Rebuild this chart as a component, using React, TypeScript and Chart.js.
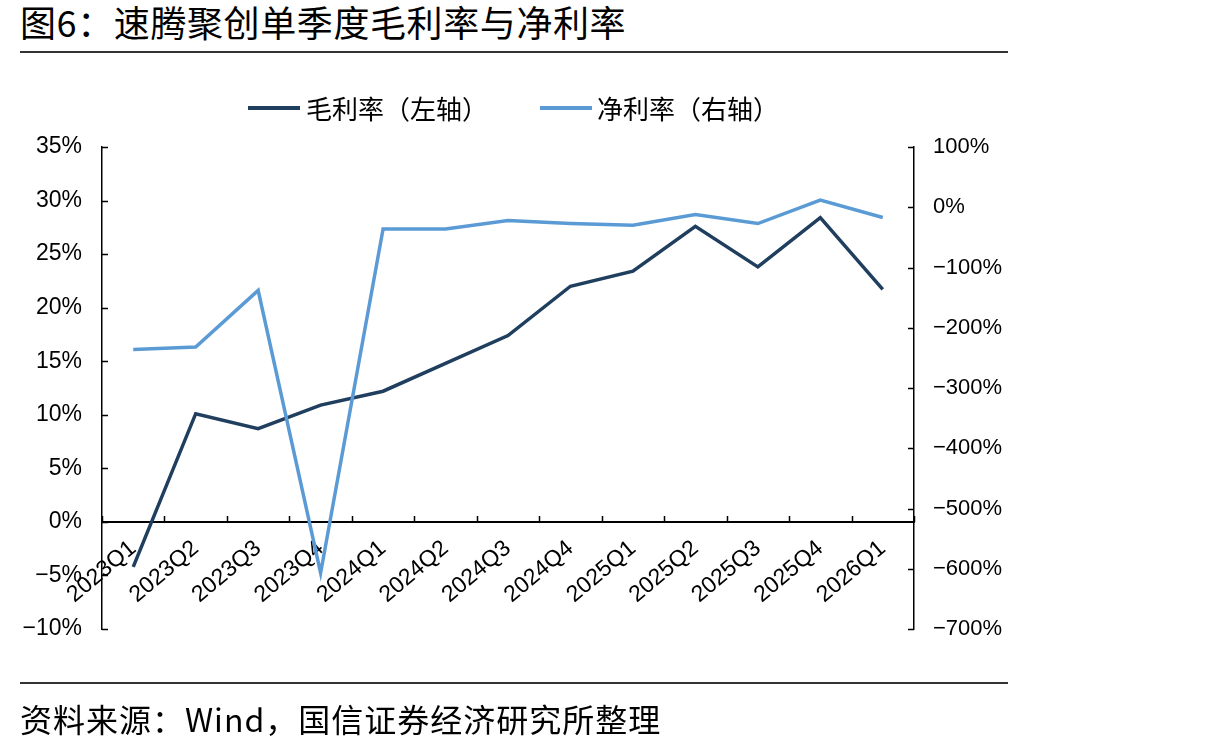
import React, { useEffect, useRef } from 'react';
import { Chart, registerables } from 'chart.js';

Chart.register(...registerables);

const categories = ['2023Q1', '2023Q2', '2023Q3', '2023Q4', '2024Q1', '2024Q2', '2024Q3', '2024Q4', '2025Q1', '2025Q2', '2025Q3', '2025Q4', '2026Q1'];
const grossMargin = [-4.2, 10.1, 8.7, 10.9, 12.2, 14.8, 17.4, 22.0, 23.4, 27.6, 23.8, 28.4, 21.7];
const netMargin = [-236, -232, -138, -607, -36, -36, -22, -27, -30, -12, -27, 12, -17];
const leftAxisRange = [-10, 35, 5];
const rightAxisRange = [-700, 100, 100];

const titleText = '图6：速腾聚创单季度毛利率与净利率';
const legendGross = '毛利率（左轴）';
const legendNet = '净利率（右轴）';
const sourceText = '资料来源：Wind，国信证券经济研究所整理';

const DARK = '#203F5F';
const LIGHT = '#5B9BD5';
const CJK = '"Noto Sans CJK SC", "Noto Sans", sans-serif';
const TICK_FONT = '"Liberation Sans", Arial, sans-serif';

const fmt = (v: number) => (v < 0 ? '\u2212' + Math.abs(v) + '%' : v + '%');

const innerTicks = {
  id: 'innerTicks',
  afterDraw(chart: any) {
    const ctx = chart.ctx;
    const x = chart.scales.x;
    const y = chart.scales.y;
    const y1 = chart.scales.y1;
    ctx.save();
    ctx.strokeStyle = '#000';
    ctx.lineWidth = 1.5;
    ctx.beginPath();
    y.ticks.forEach((t: any) => {
      const p = Math.round(y.getPixelForValue(t.value)) + 0.5;
      ctx.moveTo(y.right, p);
      ctx.lineTo(y.right + 6, p);
    });
    y1.ticks.forEach((t: any) => {
      const p = Math.round(y1.getPixelForValue(t.value)) + 0.5;
      ctx.moveTo(y1.left, p);
      ctx.lineTo(y1.left - 6, p);
    });
    const y0 = y.getPixelForValue(0);
    for (let i = 0; i <= categories.length; i++) {
      const px = Math.round(x.getPixelForValue(i - 0.5)) + 0.5;
      ctx.moveTo(px, y0);
      ctx.lineTo(px, y0 - 6);
    }
    ctx.stroke();
    ctx.restore();
  },
};

export default function App() {
  const ref = useRef<HTMLCanvasElement>(null);

  useEffect(() => {
    if (!ref.current) return;
    const chart = new Chart(ref.current, {
      type: 'line',
      data: {
        labels: categories,
        datasets: [
          {
            label: legendGross,
            data: grossMargin,
            borderColor: DARK,
            backgroundColor: DARK,
            borderWidth: 3.5,
            pointRadius: 0,
            tension: 0,
            yAxisID: 'y',
            order: 1,
          },
          {
            label: legendNet,
            data: netMargin,
            borderColor: LIGHT,
            backgroundColor: LIGHT,
            borderWidth: 3.5,
            pointRadius: 0,
            tension: 0,
            yAxisID: 'y1',
            order: 0,
          },
        ],
      },
      options: {
        responsive: false,
        animation: false,
        layout: { padding: { left: 0, right: 0, top: 147, bottom: 122 } },
        plugins: { legend: { display: false }, tooltip: { enabled: false } },
        scales: {
          x: {
            type: 'category',
            offset: true,
            position: { y: 0 } as any,
            afterFit: (s: any) => { s.height = 0; },
            grid: { display: true, drawOnChartArea: false, drawTicks: false },
            border: { display: true, color: '#000', width: 2 },
            ticks: {
              minRotation: 40,
              maxRotation: 40,
              autoSkip: false,
              padding: 13,
              color: '#000',
              font: { family: TICK_FONT, size: 23 },
            },
          },
          y: {
            type: 'linear',
            position: 'left',
            min: leftAxisRange[0],
            max: leftAxisRange[1],
            afterFit: (s: any) => { s.width = 102; },
            grid: { display: true, drawOnChartArea: false, drawTicks: false },
            border: { display: true, color: '#000', width: 1.5 },
            ticks: {
              stepSize: leftAxisRange[2],
              padding: 20,
              color: '#000',
              font: { family: TICK_FONT, size: 23 },
              callback: (v: any) => fmt(Number(v)),
            },
          },
          y1: {
            type: 'linear',
            position: 'right',
            min: rightAxisRange[0],
            max: rightAxisRange[1],
            afterFit: (s: any) => { s.width = 1222 - 914; },
            grid: { display: true, drawOnChartArea: false, drawTicks: false },
            border: { display: true, color: '#000', width: 1.5 },
            ticks: {
              stepSize: rightAxisRange[2],
              padding: 19,
              color: '#000',
              font: { family: TICK_FONT, size: 22 },
              callback: (v: any) => fmt(Number(v)),
            },
          },
        },
      },
      plugins: [innerTicks],
    });
    return () => chart.destroy();
  }, []);

  const abs = (s: React.CSSProperties): React.CSSProperties => ({ position: 'absolute', ...s });

  return (
    <div style={abs({ left: 0, top: 0, width: 1222, height: 751, background: '#fff', overflow: 'hidden' })}>
      <div style={abs({ left: 20, top: -3, fontFamily: CJK, fontSize: 36, letterSpacing: '0.6px', lineHeight: '48px', color: '#000', whiteSpace: 'nowrap' })}>{titleText}</div>
      <div style={abs({ left: 20, top: 51, width: 988, height: 2, background: '#333' })} />
      <canvas ref={ref} width={1222} height={751} style={abs({ left: 0, top: 0 })} />
      <div style={abs({ left: 248, top: 106, width: 52, height: 4, background: DARK })} />
      <div style={abs({ left: 306, top: 91, fontFamily: CJK, fontSize: 26, lineHeight: '34px', color: '#000', whiteSpace: 'nowrap' })}>{legendGross}</div>
      <div style={abs({ left: 540, top: 106, width: 52, height: 4, background: LIGHT })} />
      <div style={abs({ left: 597, top: 91, fontFamily: CJK, fontSize: 26, lineHeight: '34px', color: '#000', whiteSpace: 'nowrap' })}>{legendNet}</div>
      <div style={abs({ left: 20, top: 682, width: 988, height: 2, background: '#333' })} />
      <div style={abs({ left: 20, top: 697, fontFamily: CJK, fontSize: 32, letterSpacing: '1px', lineHeight: '42px', color: '#000', whiteSpace: 'nowrap' })}>{sourceText}</div>
    </div>
  );
}
